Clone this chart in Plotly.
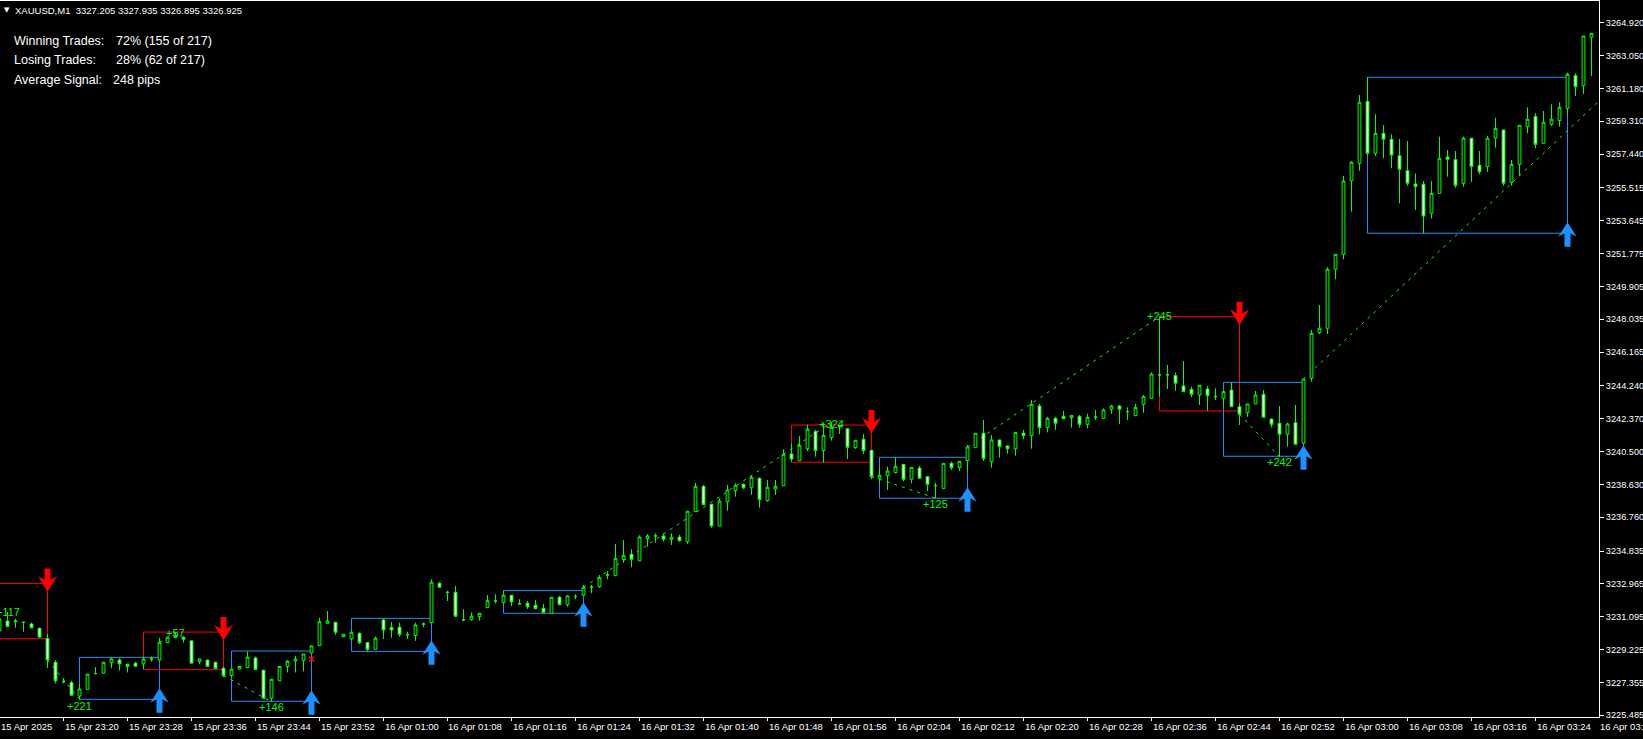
import plotly.graph_objects as go

# ---------------- data ----------------
time_labels = ["15 Apr 2025", "15 Apr 23:20", "15 Apr 23:28", "15 Apr 23:36", "15 Apr 23:44",
               "15 Apr 23:52", "16 Apr 01:00", "16 Apr 01:08", "16 Apr 01:16", "16 Apr 01:24",
               "16 Apr 01:32", "16 Apr 01:40", "16 Apr 01:48", "16 Apr 01:56", "16 Apr 02:04",
               "16 Apr 02:12", "16 Apr 02:20", "16 Apr 02:28", "16 Apr 02:36", "16 Apr 02:44",
               "16 Apr 02:52", "16 Apr 03:00", "16 Apr 03:08", "16 Apr 03:16", "16 Apr 03:24",
               "16 Apr 03:32"]
time_label_idx = list(range(0, 201, 8))

price_ticks = [3264.920, 3263.050, 3261.180, 3259.310, 3257.440, 3255.515, 3253.645, 3251.775,
               3249.905, 3248.035, 3246.165, 3244.240, 3242.370, 3240.500, 3238.630, 3236.760,
               3234.835, 3232.965, 3231.095, 3229.225, 3227.355, 3225.485]

ohlc = [
 (3230.28, 3231.08, 3230.17, 3230.97), (3230.85, 3231.37, 3230.51, 3230.53), (3230.80, 3230.97, 3230.47, 3230.85),
 (3230.77, 3230.81, 3230.24, 3230.78), (3230.68, 3230.76, 3230.44, 3230.46), (3230.44, 3230.46, 3229.92, 3229.93),
 (3229.85, 3230.11, 3228.18, 3228.63), (3228.50, 3228.63, 3227.30, 3227.45), (3227.40, 3227.59, 3227.30, 3227.39),
 (3227.34, 3227.45, 3226.58, 3226.62), (3226.58, 3227.27, 3226.40, 3226.98), (3226.96, 3227.84, 3226.94, 3227.82),
 (3227.85, 3228.22, 3227.84, 3227.86), (3227.88, 3228.52, 3227.85, 3228.50), (3228.48, 3228.78, 3228.16, 3228.69),
 (3228.63, 3228.73, 3228.03, 3228.41), (3228.39, 3228.41, 3227.92, 3228.26), (3228.45, 3228.52, 3228.26, 3228.27),
 (3228.41, 3228.83, 3228.11, 3228.68), (3228.69, 3228.83, 3228.54, 3228.70), (3228.63, 3229.90, 3228.63, 3229.64),
 (3229.62, 3229.94, 3229.60, 3229.93), (3229.90, 3230.17, 3229.89, 3230.04), (3229.93, 3229.98, 3229.62, 3229.81),
 (3229.72, 3229.72, 3228.45, 3228.45), (3228.54, 3228.69, 3228.39, 3228.69), (3228.63, 3228.63, 3228.24, 3228.26),
 (3228.50, 3228.52, 3228.12, 3228.14), (3228.16, 3228.26, 3227.65, 3227.74), (3227.74, 3228.12, 3227.65, 3228.11),
 (3228.11, 3228.26, 3228.11, 3228.26), (3228.20, 3229.11, 3228.20, 3228.79), (3228.75, 3228.83, 3228.07, 3228.08),
 (3228.05, 3228.07, 3226.43, 3226.45), (3226.45, 3227.55, 3226.25, 3227.53), (3227.45, 3228.26, 3227.45, 3228.26),
 (3228.26, 3228.63, 3227.92, 3228.56), (3228.58, 3228.87, 3227.92, 3228.68), (3228.61, 3228.97, 3227.98, 3228.97),
 (3229.03, 3229.45, 3229.03, 3229.43), (3229.45, 3231.03, 3229.45, 3230.81), (3230.72, 3231.42, 3230.72, 3230.85),
 (3230.78, 3230.79, 3230.06, 3230.21), (3229.96, 3230.11, 3229.94, 3230.10), (3229.83, 3230.23, 3229.77, 3230.21),
 (3230.15, 3230.21, 3229.53, 3229.62), (3229.62, 3229.62, 3229.14, 3229.24), (3229.24, 3229.96, 3229.24, 3229.87),
 (3230.91, 3230.97, 3229.83, 3230.34), (3230.48, 3230.79, 3229.90, 3230.34), (3230.50, 3230.76, 3229.96, 3230.08),
 (3230.06, 3230.24, 3229.83, 3230.07), (3230.02, 3230.76, 3229.72, 3230.63), (3230.67, 3230.76, 3230.50, 3230.68),
 (3230.76, 3233.23, 3230.74, 3233.06), (3233.00, 3233.07, 3232.77, 3232.77), (3232.49, 3232.56, 3231.99, 3232.48),
 (3232.49, 3232.85, 3231.12, 3231.12), (3230.91, 3231.52, 3230.84, 3230.92), (3230.93, 3231.33, 3230.87, 3231.12),
 (3231.10, 3231.29, 3230.87, 3231.29), (3231.61, 3232.33, 3231.61, 3232.01), (3231.99, 3232.37, 3231.86, 3232.00),
 (3231.90, 3232.58, 3231.86, 3232.32), (3232.32, 3232.33, 3231.71, 3231.94), (3231.82, 3232.09, 3231.82, 3231.83),
 (3231.86, 3231.99, 3231.54, 3231.67), (3231.75, 3232.05, 3231.55, 3231.55), (3231.58, 3231.82, 3231.33, 3231.33),
 (3231.29, 3232.22, 3231.29, 3232.20), (3232.20, 3232.28, 3231.75, 3231.78), (3231.78, 3232.33, 3231.67, 3232.28),
 (3232.24, 3232.37, 3232.09, 3232.25), (3232.32, 3232.90, 3232.32, 3232.77), (3232.77, 3232.90, 3232.43, 3232.78),
 (3232.81, 3233.47, 3232.75, 3233.32), (3233.47, 3233.70, 3233.23, 3233.48), (3233.43, 3235.24, 3233.42, 3234.42),
 (3234.36, 3235.46, 3234.17, 3234.59), (3234.65, 3234.94, 3233.91, 3234.36), (3234.28, 3235.73, 3234.28, 3235.63),
 (3235.54, 3235.80, 3235.07, 3235.69), (3235.69, 3235.84, 3235.31, 3235.70), (3235.69, 3235.84, 3235.37, 3235.50),
 (3235.50, 3235.84, 3235.18, 3235.62), (3235.63, 3235.75, 3235.37, 3235.42), (3235.37, 3237.12, 3235.24, 3237.10),
 (3237.08, 3238.71, 3237.08, 3238.52), (3238.52, 3238.60, 3237.47, 3237.47), (3237.50, 3237.51, 3236.16, 3236.26),
 (3236.26, 3237.84, 3236.26, 3237.68), (3237.64, 3238.60, 3237.13, 3238.31), (3238.27, 3238.69, 3237.93, 3238.58),
 (3238.63, 3238.69, 3238.37, 3238.44), (3238.44, 3239.15, 3238.03, 3239.03), (3238.98, 3239.03, 3237.30, 3237.76),
 (3237.70, 3238.88, 3237.64, 3238.46), (3238.37, 3238.88, 3238.03, 3238.52), (3238.55, 3240.63, 3238.55, 3240.34),
 (3240.36, 3240.97, 3239.92, 3240.07), (3239.98, 3241.38, 3239.98, 3240.85), (3240.66, 3242.03, 3240.53, 3241.77),
 (3241.65, 3241.73, 3240.21, 3240.55), (3240.55, 3242.14, 3239.86, 3241.42), (3241.29, 3242.16, 3241.12, 3241.88),
 (3241.91, 3242.01, 3241.50, 3241.92), (3241.80, 3241.80, 3240.07, 3240.74), (3240.72, 3241.14, 3240.66, 3241.14),
 (3241.20, 3241.50, 3240.36, 3240.55), (3240.57, 3240.59, 3238.92, 3239.07), (3238.99, 3239.62, 3238.71, 3239.15),
 (3239.12, 3239.64, 3238.31, 3239.39), (3239.30, 3240.17, 3239.26, 3239.66), (3239.77, 3239.79, 3238.80, 3238.92),
 (3238.92, 3239.60, 3238.69, 3239.60), (3239.56, 3239.68, 3238.98, 3238.98), (3239.07, 3239.07, 3238.25, 3238.63),
 (3238.55, 3238.72, 3237.85, 3238.56), (3238.40, 3239.83, 3238.40, 3239.83), (3239.83, 3239.92, 3239.45, 3239.58),
 (3239.58, 3239.94, 3239.39, 3239.94), (3239.98, 3240.87, 3239.35, 3240.76), (3240.72, 3241.54, 3240.72, 3241.54),
 (3241.54, 3242.30, 3239.96, 3240.09), (3239.92, 3241.44, 3239.58, 3241.16), (3241.16, 3241.16, 3240.15, 3240.78),
 (3240.82, 3240.82, 3240.38, 3240.66), (3240.66, 3241.59, 3240.26, 3241.59), (3241.55, 3241.73, 3241.20, 3241.40),
 (3241.40, 3243.43, 3240.66, 3243.19), (3243.09, 3243.21, 3241.48, 3241.86), (3241.86, 3242.48, 3241.59, 3242.39),
 (3242.39, 3242.48, 3241.73, 3242.11), (3242.51, 3242.81, 3242.37, 3242.37), (3242.43, 3242.56, 3241.86, 3242.56),
 (3242.51, 3242.58, 3241.86, 3242.05), (3242.05, 3242.64, 3241.82, 3242.45), (3242.45, 3242.87, 3242.30, 3242.46),
 (3242.39, 3242.96, 3242.39, 3242.87), (3242.91, 3243.15, 3242.64, 3243.09), (3243.09, 3243.15, 3242.07, 3242.91),
 (3242.77, 3243.02, 3242.30, 3242.78), (3242.54, 3243.21, 3242.54, 3243.00), (3243.19, 3243.72, 3242.71, 3243.62),
 (3243.53, 3245.01, 3243.53, 3244.91), (3244.86, 3248.18, 3243.62, 3244.87), (3244.86, 3245.43, 3244.06, 3244.87),
 (3244.82, 3244.99, 3243.96, 3244.39), (3244.23, 3245.65, 3243.91, 3243.91), (3244.04, 3244.19, 3243.59, 3243.76),
 (3243.72, 3244.27, 3243.15, 3244.27), (3244.06, 3244.23, 3242.82, 3243.68), (3243.62, 3244.10, 3243.43, 3243.63),
 (3243.53, 3243.91, 3243.05, 3243.91), (3244.00, 3244.42, 3243.05, 3243.05), (3243.05, 3243.25, 3242.01, 3242.62),
 (3242.71, 3243.21, 3242.48, 3243.21), (3243.21, 3243.95, 3243.21, 3243.72), (3243.76, 3244.00, 3242.45, 3242.45),
 (3242.35, 3242.35, 3241.88, 3242.05), (3242.11, 3243.09, 3240.21, 3241.48), (3241.48, 3242.14, 3240.78, 3242.07),
 (3242.14, 3243.15, 3240.91, 3240.91), (3240.97, 3244.63, 3240.97, 3244.63), (3244.67, 3247.42, 3244.48, 3247.23),
 (3247.27, 3248.84, 3247.19, 3247.52), (3247.52, 3250.99, 3247.19, 3250.88), (3250.88, 3251.73, 3250.31, 3251.73),
 (3251.73, 3256.19, 3251.45, 3255.90), (3255.92, 3257.04, 3254.16, 3256.97), (3256.91, 3260.80, 3256.49, 3260.39),
 (3260.44, 3261.81, 3257.38, 3257.48), (3257.48, 3259.70, 3257.33, 3258.62), (3258.62, 3259.09, 3257.20, 3258.28),
 (3258.28, 3258.56, 3256.63, 3257.38), (3257.34, 3258.30, 3254.63, 3256.57), (3256.49, 3258.18, 3255.64, 3255.77),
 (3255.73, 3256.34, 3254.25, 3255.58), (3255.72, 3255.90, 3252.93, 3253.91), (3254.07, 3255.90, 3253.78, 3255.20),
 (3255.20, 3258.43, 3255.20, 3257.20), (3257.27, 3257.67, 3256.15, 3257.14), (3257.12, 3257.61, 3255.52, 3255.66),
 (3255.77, 3258.43, 3255.58, 3258.34), (3258.34, 3258.34, 3255.86, 3256.72), (3256.80, 3257.61, 3256.30, 3256.43),
 (3256.72, 3258.47, 3256.43, 3258.34), (3258.34, 3259.51, 3257.80, 3258.90), (3258.81, 3258.81, 3255.64, 3255.77),
 (3255.83, 3257.10, 3255.64, 3256.85), (3256.85, 3259.07, 3256.21, 3259.07), (3259.00, 3260.10, 3258.62, 3259.42),
 (3259.57, 3259.76, 3257.77, 3257.99), (3258.05, 3259.89, 3258.05, 3259.25), (3259.13, 3260.27, 3259.04, 3259.42),
 (3259.34, 3260.39, 3259.00, 3260.10), (3260.04, 3262.07, 3259.66, 3261.98), (3261.90, 3262.04, 3260.74, 3261.27),
 (3261.33, 3264.16, 3260.86, 3264.16), (3264.09, 3264.31, 3261.88, 3264.31),
]
open_ = [c[0] for c in ohlc]
high = [c[1] for c in ohlc]
low = [c[2] for c in ohlc]
close = [c[3] for c in ohlc]
bar_idx = list(range(len(ohlc)))

# signal boxes
box_start = [-10, 10, 18, 29, 44, 63, 99, 110, 145, 153, 171]
box_end = [6, 20, 28, 39, 54, 73, 109, 121, 155, 163, 196]
box_top = [3232.99, 3228.78, 3230.22, 3229.14, 3231.00, 3232.58, 3242.01, 3240.17, 3248.18, 3244.44, 3261.81]
box_bottom = [3229.84, 3226.39, 3228.08, 3226.28, 3229.12, 3231.29, 3239.89, 3237.84, 3242.81, 3240.23, 3252.93]
box_dir = ["sell", "buy", "sell", "buy", "buy", "buy", "sell", "buy", "sell", "buy", "buy"]

# trade path lines: from signal close to extreme bar (high for buy, low for sell)
trade_start = [6, 20, 28, 73, 109, 121, 155]
trade_end = [10, 22, 34, 104, 117, 145, 160]
trade_dir = ["sell", "buy", "sell", "buy", "sell", "buy", "sell"]
open_trade_start = 163
open_trade_exit_price = 3260.46

# profit labels
label_idx = [1, 10, 22, 34, 104, 117, 145, 160]
label_price = [3231.38, 3226.03, 3230.19, 3225.97, 3242.05, 3237.51, 3248.19, 3239.89]
label_text = ["+117", "+221", "+57", "+146", "+324", "+125", "+245", "+242"]

loss_idx = [39]
loss_price = [3228.69]

header_text = "XAUUSD,M1  3327.205 3327.935 3326.895 3326.925"
stats_names = ["Winning Trades:", "Losing Trades:", "Average Signal:"]
stats_values = ["72% (155 of 217)", "28% (62 of 217)", "248 pips"]

# ---------------- layout constants ----------------
W, H = 1643, 739
ML, MR, MT, MB = 0, 44, 1, 22
PW, PH = W - ML - MR, H - MT - MB
XMIN, XMAX = 0.0625, 199.9375
YMIN, YMAX = 3225.384, 3266.153
GREEN = "#00ff00"
RED = "#ff0000"
BLUE = "#1e90ff"
WHITE = "#ffffff"
FONT = "Liberation Sans, Arial, sans-serif"

fig = go.Figure()
fig.add_trace(go.Candlestick(
    x=bar_idx, open=open_, high=high, low=low, close=close,
    increasing=dict(line=dict(color=GREEN, width=1), fillcolor="#000000"),
    decreasing=dict(line=dict(color=GREEN, width=1), fillcolor="#ffffff"),
    whiskerwidth=0, hoverinfo="skip", showlegend=False))

fig.add_trace(go.Scatter(x=loss_idx, y=loss_price, mode="markers",
                         marker=dict(symbol="x-thin", size=5, line=dict(color=RED, width=1.6)),
                         hoverinfo="skip", showlegend=False))

shapes = []
for s, e, t, b, d in zip(box_start, box_end, box_top, box_bottom, box_dir):
    col = RED if d == "sell" else BLUE
    shapes.append(dict(type="rect", xref="x", yref="y", x0=s, x1=e, y0=b, y1=t,
                       line=dict(color=col, width=1), fillcolor="rgba(0,0,0,0)", layer="below"))

DASH = "3px,5px"
for s, e, d in zip(trade_start, trade_end, trade_dir):
    yend = high[e] if d == "buy" else low[e]
    shapes.append(dict(type="line", xref="x", yref="y", x0=s, y0=close[s], x1=e, y1=yend,
                       line=dict(color=GREEN, width=1, dash=DASH), layer="below"))
shapes.append(dict(type="line", xref="x", yref="y", x0=open_trade_start, y0=close[open_trade_start],
                   x1=XMAX, y1=open_trade_exit_price,
                   line=dict(color=GREEN, width=1, dash=DASH), layer="below"))

UP_ARROW = "M 0 11 L 9.2 -3.4 L 3 0 L 3 -13.4 L -3 -13.4 L -3 0 L -9.2 -3.4 Z"
DOWN_ARROW = "M -3 15 L 3 15 L 3 3.3 L 9.5 7.3 L 0 -8.4 L -9.5 7.3 L -3 3.3 Z"
for e, t, b, d in zip(box_end, box_top, box_bottom, box_dir):
    if d == "buy":
        shapes.append(dict(type="path", xref="x", yref="y", xsizemode="pixel", ysizemode="pixel",
                           xanchor=e, yanchor=b, path=UP_ARROW, fillcolor=BLUE,
                           line=dict(width=0), layer="above"))
    else:
        shapes.append(dict(type="path", xref="x", yref="y", xsizemode="pixel", ysizemode="pixel",
                           xanchor=e, yanchor=t, path=DOWN_ARROW, fillcolor=RED,
                           line=dict(width=0), layer="above"))

annotations = []
for i, p, txt in zip(label_idx, label_price, label_text):
    annotations.append(dict(x=i, y=p, xref="x", yref="y", text=txt, showarrow=False,
                            font=dict(family=FONT, size=11, color=GREEN),
                            xanchor="center", yanchor="middle"))

def px_to_paper(px, py):
    return (px - ML) / PW, 1 - (py - MT) / PH

# time labels on the x axis
for idx, lab in zip(time_label_idx, time_labels):
    xp = min(max((idx - XMIN) / (XMAX - XMIN), 0.0), 1.0)
    annotations.append(dict(x=xp, y=0, xref="paper", yref="paper", text=lab, showarrow=False,
                            xanchor="left", yanchor="top", yshift=-2, xshift=-1,
                            font=dict(family=FONT, size=9.5, color=WHITE)))

# header
hx, hy = px_to_paper(2, 10)
annotations.append(dict(x=hx, y=hy, xref="paper", yref="paper", text="\u25bc", showarrow=False,
                        xanchor="left", yanchor="middle", font=dict(family="DejaVu Sans", size=7, color=WHITE)))
hx, hy = px_to_paper(13, 10)
annotations.append(dict(x=hx, y=hy, xref="paper", yref="paper", text=header_text.replace(" ", "\u00a0"),
                        showarrow=False, xanchor="left", yanchor="middle",
                        font=dict(family=FONT, size=9.5, color=WHITE)))

# stats block
stat_rows_y = [41, 60, 80]
for name, val, yy in zip(stats_names, stats_values, stat_rows_y):
    ax_, ay_ = px_to_paper(12, yy)
    annotations.append(dict(x=ax_, y=ay_, xref="paper", yref="paper", text=name, showarrow=False,
                            xanchor="left", yanchor="middle", font=dict(family=FONT, size=12.5, color=WHITE)))
    vx = 111 if val.endswith("pips") else 114
    bx_, by_ = px_to_paper(vx, yy)
    annotations.append(dict(x=bx_, y=by_, xref="paper", yref="paper", text=val, showarrow=False,
                            xanchor="left", yanchor="middle", font=dict(family=FONT, size=12.5, color=WHITE)))

fig.update_layout(
    width=W, height=H,
    margin=dict(l=ML, r=MR, t=MT, b=MB, pad=0),
    paper_bgcolor="#000000", plot_bgcolor="#000000",
    showlegend=False, boxgap=0.5,
    shapes=shapes, annotations=annotations,
    xaxis=dict(range=[XMIN, XMAX], showgrid=False, zeroline=False, showline=True, linecolor=WHITE,
               linewidth=1, mirror=True, ticks="outside", ticklen=3, tickcolor=WHITE,
               tickvals=time_label_idx, showticklabels=False, rangeslider=dict(visible=False),
               automargin=False, fixedrange=True),
    yaxis=dict(range=[YMIN, YMAX], side="right", showgrid=False, zeroline=False, showline=True,
               linecolor=WHITE, linewidth=1, mirror=False, ticks="outside", ticklen=4, tickcolor=WHITE,
               tickvals=price_ticks, ticktext=[f"{v:.3f}" for v in price_ticks],
               tickfont=dict(family=FONT, size=9.2, color=WHITE), automargin=False, fixedrange=True),
)

fig.write_html("out.html", config={"displayModeBar": False},
               post_script="document.body.style.margin='0';document.body.style.padding='0';"
                           "document.body.style.background='#000';document.body.style.overflow='hidden';")
